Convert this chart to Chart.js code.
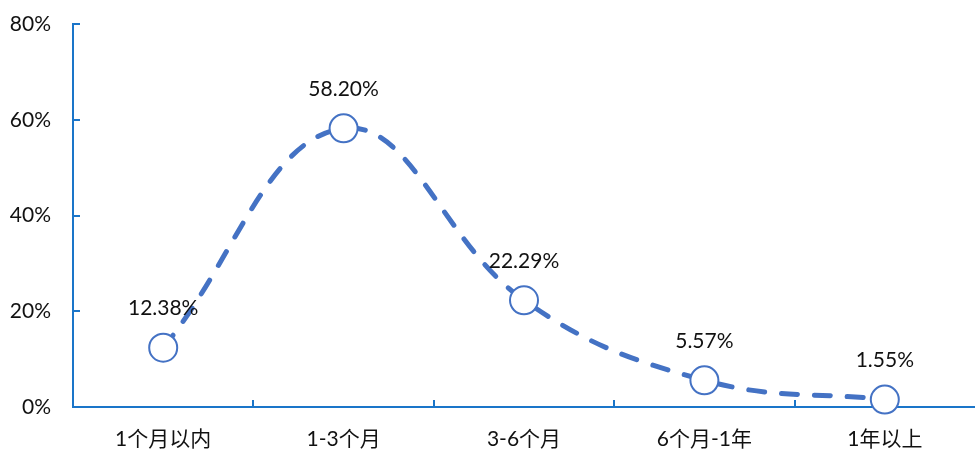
<!DOCTYPE html>
<html>
<head>
<meta charset="utf-8">
<script src="https://cdn.jsdelivr.net/npm/chart.js@4"></script>
<style>
html,body{margin:0;padding:0;background:#fff;overflow:hidden;}
#wrap{width:975px;height:453px;}
</style>
</head>
<body>
<div id="wrap"><canvas id="lineChart"></canvas></div>
<script>
// data
const categories = ["1个月以内", "1-3个月", "3-6个月", "6个月-1年", "1年以上"];
const shares = [12.38, 58.20, 22.29, 5.57, 1.55];
const yTicks = [0, 20, 40, 60, 80];

const lineBlue = "#4472C4";
const axisBlue = "#1A75C9";
const fontFam = "Lato, 'Noto Sans CJK SC', sans-serif";

// value labels above each point + inner tick marks
const extras = {
  id: "extras",
  afterDatasetsDraw(chart) {
    const ctx = chart.ctx;
    const meta = chart.getDatasetMeta(0);
    ctx.save();
    ctx.font = "21px " + fontFam;
    ctx.fillStyle = "#111";
    ctx.textAlign = "center";
    ctx.textBaseline = "middle";
    meta.data.forEach(function (pt, i) {
      ctx.fillText(shares[i].toFixed(2) + "%", pt.x, pt.y - 39);
    });
    ctx.restore();
  },
  afterDraw(chart) {
    const ctx = chart.ctx;
    const x = chart.scales.x, y = chart.scales.y;
    ctx.save();
    ctx.strokeStyle = axisBlue;
    ctx.lineWidth = 2;
    ctx.beginPath();
    yTicks.forEach(function (v) {
      const py = Math.round(y.getPixelForValue(v));
      ctx.moveTo(x.left, py);
      ctx.lineTo(x.left + 7, py);
    });
    for (let i = 1; i < categories.length; i++) {
      const px = Math.round((x.getPixelForValue(i - 1) + x.getPixelForValue(i)) / 2);
      ctx.moveTo(px, y.bottom);
      ctx.lineTo(px, y.bottom - 7);
    }
    ctx.stroke();
    ctx.restore();
  }
};

new Chart(document.getElementById("lineChart"), {
  type: "line",
  data: {
    labels: categories,
    datasets: [{
      data: shares,
      borderColor: lineBlue,
      borderWidth: 5,
      borderDash: [16, 17],
      borderCapStyle: "round",
      tension: 0.4,
      pointRadius: 14,
      pointHoverRadius: 14,
      pointBorderWidth: 2,
      pointBorderColor: lineBlue,
      pointBackgroundColor: "#fff",
      fill: false,
      clip: false
    }]
  },
  options: {
    responsive: true,
    maintainAspectRatio: false,
    animation: false,
    layout: { autoPadding: false, padding: { top: 24, right: 0, left: 0, bottom: 0 } },
    plugins: {
      legend: { display: false },
      tooltip: { enabled: false }
    },
    scales: {
      x: {
        offset: true,
        grid: { display: false, drawTicks: false },
        border: { display: true, color: axisBlue, width: 2 },
        ticks: { color: "#111", font: { size: 21, family: fontFam }, padding: 20 },
        afterFit(scale) { scale.height = 46; scale.paddingLeft = 0; scale.paddingRight = 0; }
      },
      y: {
        min: 0,
        max: 80,
        grid: { display: false, drawTicks: false },
        border: { display: true, color: axisBlue, width: 2 },
        ticks: {
          stepSize: 20,
          color: "#111",
          font: { size: 21, family: fontFam },
          padding: 22,
          callback: function (v) { return v + "%"; }
        },
        afterFit(scale) { scale.width = 73; scale.paddingTop = 0; scale.paddingBottom = 0; }
      }
    }
  },
  plugins: [extras]
});
</script>
</body>
</html>
